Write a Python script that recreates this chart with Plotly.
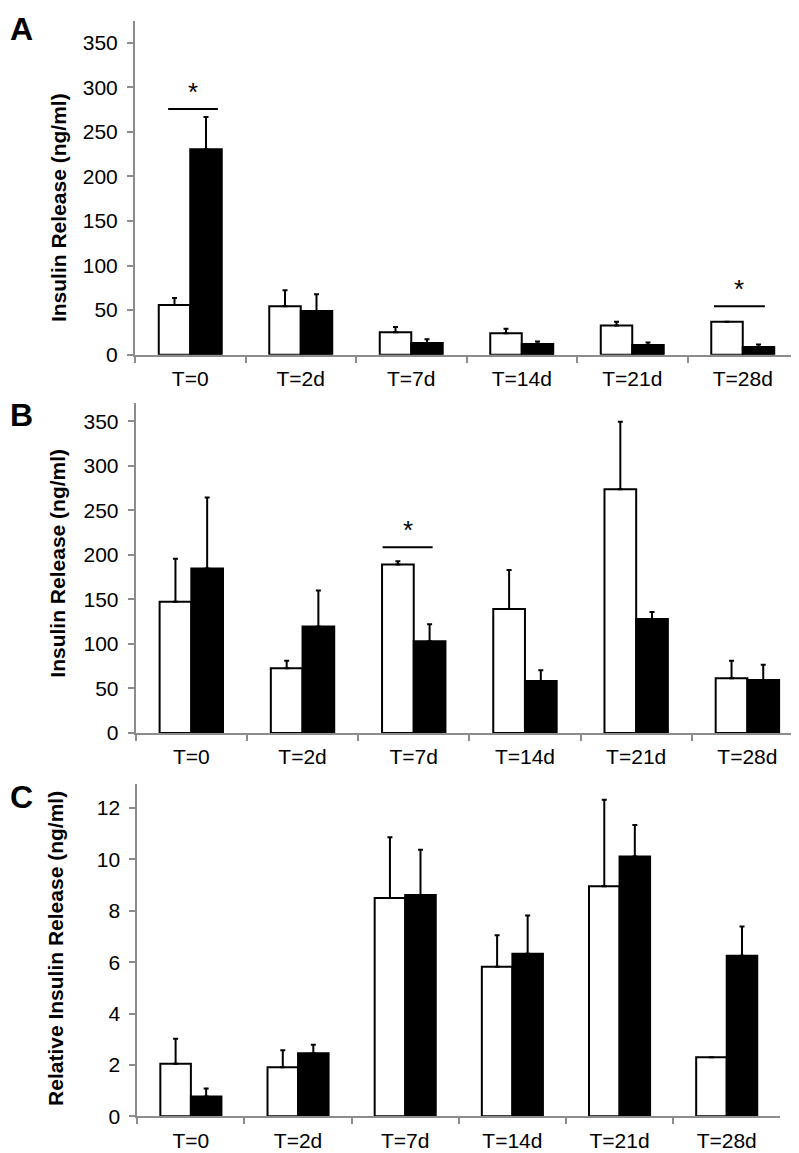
import plotly.graph_objects as go

W, H = 799, 1153

categories = ["T=0", "T=2d", "T=7d", "T=14d", "T=21d", "T=28d"]

# Panel A
a_white = [55.6, 54.4, 25.2, 24.1, 32.6, 37.0]
a_white_err = [8.1, 17.8, 5.9, 5.1, 4.4, 0.0]
a_black = [230.3, 48.9, 13.0, 11.9, 10.8, 8.5]
a_black_err = [36.4, 18.9, 4.4, 2.9, 2.9, 2.9]

# Panel B
b_white = [147.4, 72.6, 189.3, 139.3, 273.7, 61.5]
b_white_err = [48.2, 8.5, 3.7, 43.7, 75.9, 19.6]
b_black = [184.8, 119.6, 103.0, 58.5, 128.1, 59.6]
b_black_err = [79.6, 40.4, 19.2, 11.9, 7.8, 17.1]

# Panel C
c_white = [2.05, 1.91, 8.50, 5.82, 8.95, 2.30]
c_white_err = [0.97, 0.66, 2.36, 1.23, 3.37, 0.0]
c_black = [0.77, 2.45, 8.61, 6.33, 10.11, 6.25]
c_black_err = [0.31, 0.34, 1.76, 1.49, 1.23, 1.14]

# significance markers: (category index, y value, left offset, right offset)
sig_a = [(0, 275.6, -0.20, 0.25), (5, 54.4, -0.26, 0.20)]
sig_b = [(2, 208.5, -0.28, 0.17)]

FONT = "Liberation Sans, Arial, sans-serif"
AXC = "#8c8c8c"

# pixel geometry of each panel: (x_left, x_right, y_top, y_bottom)
geom = {
    "A": (127.0, 790.0, 13.0, 350.0),
    "B": (127.7, 795.0, 399.3, 732.0),
    "C": (129.3, 772.3, 783.3, 1119.0),
}

fig = go.Figure()

panels = [
    ("A", a_white, a_white_err, a_black, a_black_err, 374.4, 50),
    ("B", b_white, b_white_err, b_black, b_black_err, 370.0, 50),
    ("C", c_white, c_white_err, c_black, c_black_err, 12.94, 2),
]

for i, (name, wv, we, bv, be, ymax, dt) in enumerate(panels):
    idx = "" if i == 0 else str(i + 1)
    xa, ya = "x" + idx, "y" + idx
    for vals, errs, fill in ((wv, we, "white"), (bv, be, "black")):
        fig.add_trace(go.Bar(
            x=categories, y=vals, xaxis=xa, yaxis=ya,
            marker=dict(color=fill, line=dict(color="black", width=2)),
            error_y=dict(type="data", array=errs, arrayminus=[0] * len(errs),
                         symmetric=False, color="black", thickness=2, width=2.5),
            showlegend=False,
        ))
    xl, xr, yt, yb = geom[name]
    dom_x = [xl / W, xr / W]
    dom_y = [1 - yb / H, 1 - yt / H]
    fig.update_layout(**{
        "xaxis" + idx: dict(
            domain=dom_x, anchor=ya, type="category", range=[-0.5, 5.5],
            showline=True, linecolor=AXC, linewidth=2,
            ticks="outside", tickson="boundaries", tickcolor=AXC, ticklen=6, tickwidth=2,
            tickfont=dict(family=FONT, size=21, color="black"), ticklabelstandoff=4,
            showgrid=False, zeroline=False, fixedrange=True,
        ),
        "yaxis" + idx: dict(
            domain=dom_y, anchor=xa, range=[0, ymax], dtick=dt, tick0=0,
            showline=True, linecolor=AXC, linewidth=2,
            ticks="outside", tickcolor=AXC, ticklen=6, tickwidth=2,
            tickfont=dict(family=FONT, size=21, color="black"), ticklabelstandoff=5,
            showgrid=False, zeroline=False,
        ),
    })

fig.update_layout(
    width=W, height=H, margin=dict(l=0, r=0, t=0, b=0),
    paper_bgcolor="white", plot_bgcolor="white",
    barmode="group", bargap=0.43, bargroupgap=0,
    font=dict(family=FONT, color="black"),
)

annotations = []
# panel letters
for letter, ypix in (("A", 21), ("B", 411), ("C", 797)):
    annotations.append(dict(text="<b>%s</b>" % letter, x=13 / W, y=1 - ypix / H,
                            xref="paper", yref="paper", showarrow=False,
                            font=dict(family=FONT, size=32, color="black"),
                            xanchor="center", yanchor="middle"))
# y titles
for text, xpix, ypix in (("Insulin Release (ng/ml)", 50, 202),
                         ("Insulin Release (ng/ml)", 50, 561),
                         ("Relative Insulin Release (ng/ml)", 48, 950)):
    annotations.append(dict(text="<b>%s</b>" % text, x=xpix / W, y=1 - ypix / H,
                            xref="paper", yref="paper", showarrow=False, textangle=-90,
                            font=dict(family=FONT, size=21, color="black"),
                            xanchor="center", yanchor="middle"))

shapes = []
for (ci, yv, lo, hi), (xr_, yr_) in [(s, ("x", "y")) for s in sig_a] + [(s, ("x2", "y2")) for s in sig_b]:
    shapes.append(dict(type="line", xref=xr_, yref=yr_, x0=ci + lo, x1=ci + hi, y0=yv, y1=yv,
                       line=dict(color="black", width=2)))
    annotations.append(dict(text="*", xref=xr_, yref=yr_, x=ci + (lo + hi) / 2, y=yv,
                            showarrow=False, yanchor="bottom", yshift=0,
                            font=dict(family=FONT, size=26, color="black")))

fig.update_layout(annotations=annotations, shapes=shapes)

fig.write_html("out.html")
